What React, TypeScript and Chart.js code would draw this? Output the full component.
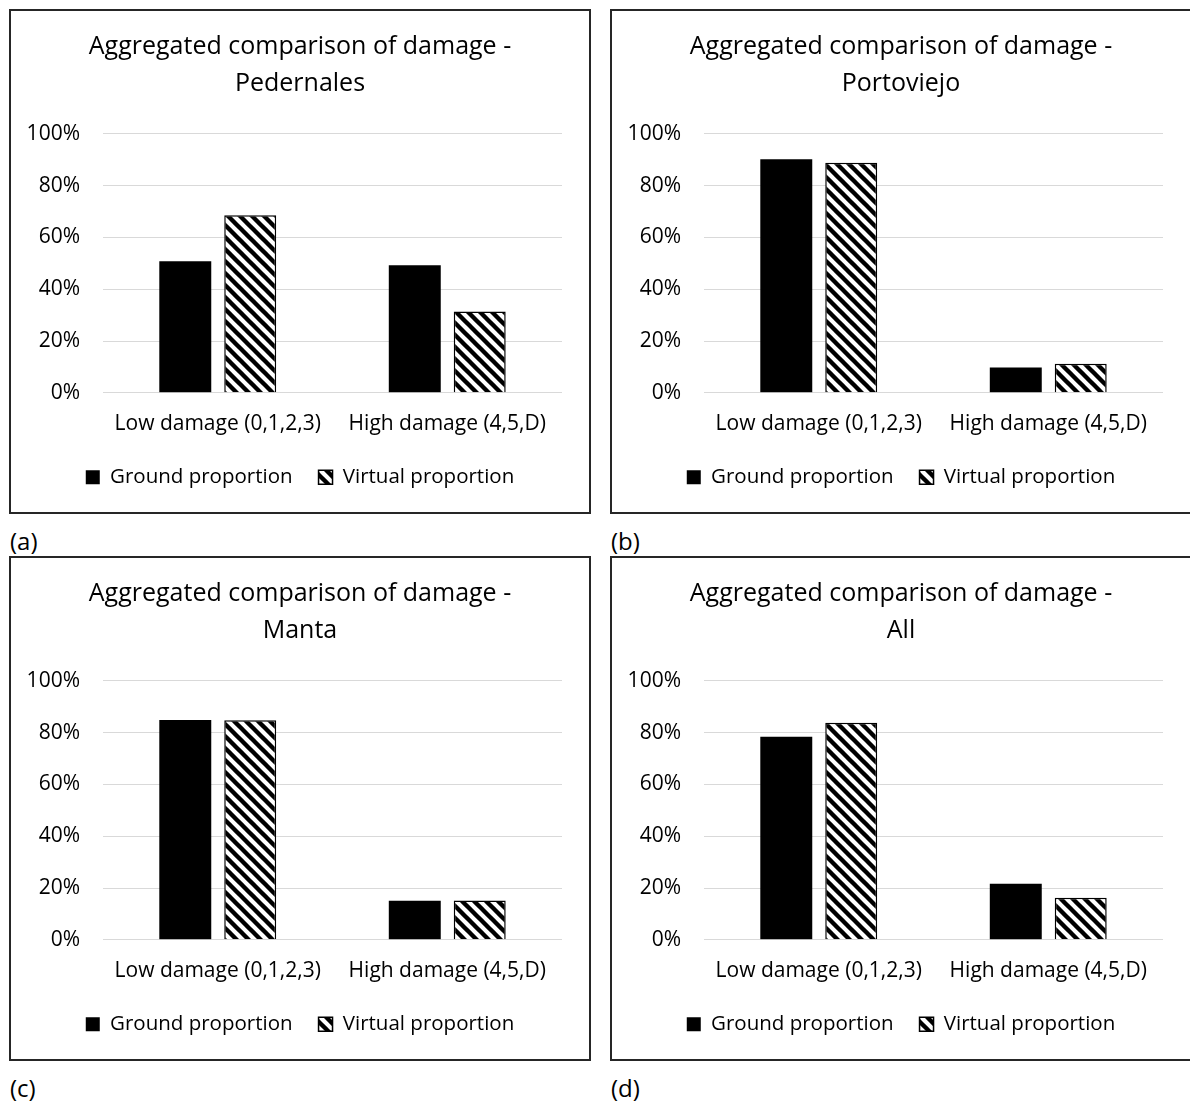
import React, { useEffect, useRef } from 'react';
import { Chart, registerables } from 'chart.js';

Chart.register(...registerables);

// ---- data ----
const categories = ['Low damage (0,1,2,3)', 'High damage (4,5,D)'];
const seriesNames = ['Ground proportion', 'Virtual proportion'];
const yTicks = [0, 20, 40, 60, 80, 100];
const titleLine1 = 'Aggregated comparison of damage -';

const pedernalesGround = [50.8, 49.2];
const pedernalesVirtual = [68.6, 31.4];
const portoviejoGround = [90.2, 9.8];
const portoviejoVirtual = [88.8, 11.2];
const mantaGround = [84.9, 15.1];
const mantaVirtual = [84.8, 15.2];
const allGround = [78.4, 21.6];
const allVirtual = [83.8, 16.2];

const panelTitles = ['Pedernales', 'Portoviejo', 'Manta', 'All'];
const panelLabels = ['(a)', '(b)', '(c)', '(d)'];

const FONT = "'Open Sans', sans-serif";
const CW = 578;
const CH = 501;

function makeHatch(): CanvasPattern | string {
  const size = 12;
  const c = document.createElement('canvas');
  c.width = size;
  c.height = size;
  const ctx = c.getContext('2d');
  if (!ctx) return '#888';
  ctx.fillStyle = '#fff';
  ctx.fillRect(0, 0, size, size);
  ctx.strokeStyle = '#000';
  ctx.lineWidth = 4.4;
  for (const off of [-size, 0, size]) {
    ctx.beginPath();
    ctx.moveTo(off - 3, -3);
    ctx.lineTo(off + size + 3, size + 3);
    ctx.stroke();
  }
  return ctx.createPattern(c, 'repeat') || '#888';
}

type PanelProps = { title: string; ground: number[]; virtual: number[] };

function Panel({ title, ground, virtual }: PanelProps) {
  const ref = useRef<HTMLCanvasElement>(null);
  useEffect(() => {
    if (!ref.current) return;
    const hatch = makeHatch();
    const chart = new Chart(ref.current, {
      type: 'bar',
      data: {
        labels: categories,
        datasets: [
          {
            label: seriesNames[0],
            data: ground,
            backgroundColor: '#000',
            borderColor: '#000',
            borderWidth: 0,
            barPercentage: 0.8,
            categoryPercentage: 0.566,
          },
          {
            label: seriesNames[1],
            data: virtual,
            backgroundColor: hatch as any,
            borderColor: '#000',
            borderWidth: 1.5,
            barPercentage: 0.8,
            categoryPercentage: 0.566,
          },
        ],
      },
      options: {
        animation: false,
        responsive: false,
        maintainAspectRatio: false,
        devicePixelRatio: 1,
        layout: { padding: { left: 0, right: 0, top: 0, bottom: 14.5 } },
        plugins: {
          title: {
            display: true,
            text: [titleLine1, title],
            color: '#000',
            font: { family: FONT, size: 25, weight: 'normal', lineHeight: 1.48 },
            padding: { top: 17.5, bottom: 31.3 },
          },
          legend: {
            position: 'bottom',
            labels: {
              color: '#000',
              font: { family: FONT, size: 20.5 },
              boxWidth: 14,
              boxHeight: 14,
              padding: 26,
            },
          },
          tooltip: { enabled: false },
        },
        scales: {
          x: {
            grid: { display: false, drawTicks: false },
            border: { display: false },
            ticks: {
              color: '#000',
              font: { family: FONT, size: 21 },
              padding: 19,
              maxRotation: 0,
              autoSkip: false,
            },
            afterFit: (s: any) => {
              s.height = 48.2;
            },
          },
          y: {
            min: 0,
            max: 100,
            grid: { color: '#d9d9d9', lineWidth: 1, drawTicks: false },
            border: { display: false },
            ticks: {
              color: '#000',
              font: { family: FONT, size: 21 },
              padding: 23,
              callback: (v: any) => v + '%',
            },
            afterBuildTicks: (axis: any) => {
              axis.ticks = yTicks.map((v) => ({ value: v }));
            },
            afterFit: (s: any) => {
              s.width = 92;
            },
          },
          yRight: {
            position: 'right',
            min: 0,
            max: 100,
            grid: { display: false, drawTicks: false },
            border: { display: false },
            ticks: { display: false },
            afterFit: (s: any) => {
              s.width = 27;
            },
          },
        },
      },
    } as any);
    return () => chart.destroy();
  }, [title, ground, virtual]);
  return (
    <canvas
      ref={ref}
      width={CW}
      height={CH}
      style={{ position: 'absolute', left: 0, top: 0, width: CW, height: CH }}
    />
  );
}

const panelData = [
  { g: pedernalesGround, v: pedernalesVirtual },
  { g: portoviejoGround, v: portoviejoVirtual },
  { g: mantaGround, v: mantaVirtual },
  { g: allGround, v: allVirtual },
];

export default function App() {
  const lefts = [9, 610];
  const tops = [9, 556];
  return (
    <div
      style={{
        position: 'absolute',
        left: 0,
        top: 0,
        width: 1190,
        height: 1102,
        overflow: 'hidden',
        background: '#fff',
      }}
    >
      {panelData.map((p, i) => {
        const left = lefts[i % 2];
        const top = tops[Math.floor(i / 2)];
        return (
          <React.Fragment key={i}>
            <div
              style={{
                position: 'absolute',
                left,
                top,
                width: 582,
                height: 505,
                boxSizing: 'border-box',
                border: '2px solid #262626',
              }}
            >
              <Panel title={panelTitles[i]} ground={p.g} virtual={p.v} />
            </div>
            <div
              style={{
                position: 'absolute',
                left: left + 1,
                top: top + 517,
                fontFamily: FONT,
                fontSize: 24,
                lineHeight: '30px',
                color: '#000',
              }}
            >
              {panelLabels[i]}
            </div>
          </React.Fragment>
        );
      })}
    </div>
  );
}
